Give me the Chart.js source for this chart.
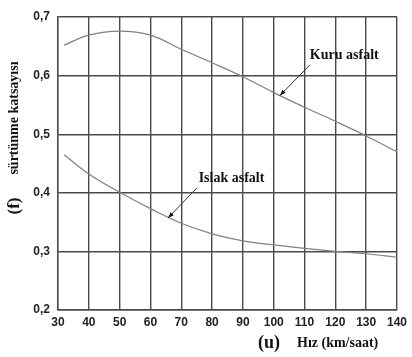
<!DOCTYPE html>
<html><head><meta charset="utf-8">
<script src="https://cdn.jsdelivr.net/npm/chart.js@4"></script>
<style>html,body{margin:0;padding:0;background:#fff}#w{width:412px;height:357px}</style>
</head><body><div id="w"><canvas id="c"></canvas></div>
<script>
const speedDry = [32, 40, 50, 60, 70, 80, 90, 100, 110, 120, 130, 140];
const frictionDry = [0.652, 0.669, 0.676, 0.669, 0.645, 0.622, 0.598, 0.571, 0.546, 0.522, 0.497, 0.470];
const speedWet = [32, 40, 50, 60, 70, 80, 90, 100, 110, 120, 130, 140];
const frictionWet = [0.465, 0.432, 0.401, 0.373, 0.348, 0.330, 0.318, 0.311, 0.305, 0.300, 0.296, 0.290];
const xTickLabels = ['30','40','50','60','70','80','90','100','110','120','130','140'];
const yTickLabels = ['0,2','0,3','0,4','0,5','0,6','0,7'];
const seriesNames = ['Kuru asfalt', 'Islak asfalt'];
const yTitle = 'sürtünme katsayısı';
const yTitleSym = '(f)';
const xTitle = 'Hız (km/saat)';
const xTitleSym = '(u)';

const serif = '"Liberation Serif", "DejaVu Serif", serif';
const sans = '"Liberation Sans", Arial, sans-serif';

const annot = {
  id: 'annot',
  afterDraw(chart) {
    const ctx = chart.ctx, xs = chart.scales.x, ys = chart.scales.y;
    const P = (x, y) => [xs.getPixelForValue(x), ys.getPixelForValue(y)];
    ctx.save();
    ctx.fillStyle = '#111';
    ctx.strokeStyle = '#333';
    ctx.lineWidth = 1;
    function label(txt, x, y) {
      const [px, py] = P(x, y);
      ctx.font = 'bold 14px ' + serif;
      ctx.textAlign = 'center'; ctx.textBaseline = 'middle';
      ctx.fillText(txt, px, py);
    }
    function arrow(x1, y1, x2, y2) {
      const [a, b] = P(x1, y1), [c, d] = P(x2, y2);
      ctx.beginPath(); ctx.moveTo(a, b); ctx.lineTo(c, d); ctx.stroke();
      const ang = Math.atan2(d - b, c - a), L = 6, W = 2.2;
      ctx.beginPath();
      ctx.moveTo(c, d);
      ctx.lineTo(c - L * Math.cos(ang) + W * Math.sin(ang), d - L * Math.sin(ang) - W * Math.cos(ang));
      ctx.lineTo(c - L * Math.cos(ang) - W * Math.sin(ang), d - L * Math.sin(ang) + W * Math.cos(ang));
      ctx.closePath(); ctx.fill();
    }
    label(seriesNames[0], 122.9, 0.635);
    arrow(111.7, 0.618, 102, 0.566);
    label(seriesNames[1], 86.3, 0.425);
    arrow(75, 0.408, 65.7, 0.357);

    // axis titles
    ctx.font = 'bold 14px ' + serif;
    ctx.textAlign = 'left'; ctx.textBaseline = 'middle';
    ctx.fillText(xTitle, 297, 343);
    ctx.font = 'bold 18px ' + serif;
    ctx.textAlign = 'center';
    ctx.fillText(xTitleSym, 269, 343);
    ctx.save();
    ctx.translate(14, 118); ctx.rotate(-Math.PI / 2);
    ctx.font = 'bold 14px ' + serif;
    ctx.textAlign = 'center'; ctx.textBaseline = 'middle';
    ctx.fillText(yTitle, 0, 0);
    ctx.restore();
    ctx.save();
    ctx.translate(15, 206); ctx.rotate(-Math.PI / 2);
    ctx.font = 'bold 17px ' + serif;
    ctx.textAlign = 'center'; ctx.textBaseline = 'middle';
    ctx.fillText(yTitleSym, 0, 0);
    ctx.restore();
    ctx.restore();
  }
};

new Chart(document.getElementById('c'), {
  type: 'line',
  data: {
    datasets: [
      { label: seriesNames[0], data: speedDry.map((x, i) => ({ x, y: frictionDry[i] })),
        borderColor: '#808080', borderWidth: 1.2, pointRadius: 0, tension: 0.4, fill: false },
      { label: seriesNames[1], data: speedWet.map((x, i) => ({ x, y: frictionWet[i] })),
        borderColor: '#808080', borderWidth: 1.2, pointRadius: 0, tension: 0.4, fill: false }
    ]
  },
  options: {
    responsive: true, maintainAspectRatio: false, animation: false,
    layout: { padding: { top: 17, right: 12, left: 0, bottom: 0 } },
    plugins: { legend: { display: false }, tooltip: { enabled: false } },
    scales: {
      x: {
        type: 'linear', min: 30, max: 140,
        afterFit(s) { s.height = 47; },
        ticks: { stepSize: 10, padding: 5, color: '#222', font: { family: sans, size: 12, weight: 'bold' },
          callback: (v) => xTickLabels[Math.round((v - 30) / 10)] },
        grid: { color: '#4a4a4a', lineWidth: 1.4, drawTicks: false },
        border: { color: '#4a4a4a', width: 1.4 }
      },
      y: {
        min: 0.2, max: 0.7,
        afterFit(s) { s.width = 58; },
        ticks: { stepSize: 0.1, padding: 8, color: '#222', font: { family: sans, size: 12, weight: 'bold' },
          callback: (v) => yTickLabels[Math.round((v - 0.2) * 10)] },
        grid: { color: '#4a4a4a', lineWidth: 1.4, drawTicks: false },
        border: { color: '#4a4a4a', width: 1.4 }
      }
    }
  },
  plugins: [annot]
});
</script>
</body></html>
